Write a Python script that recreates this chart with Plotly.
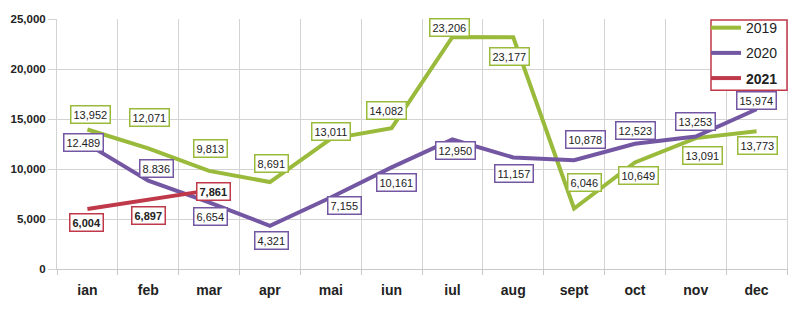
import plotly.graph_objects as go

months = ["ian", "feb", "mar", "apr", "mai", "iun", "iul", "aug", "sept", "oct", "nov", "dec"]
v2019 = [13952, 12071, 9813, 8691, 13011, 14082, 23206, 23177, 6046, 10649, 13091, 13773]
v2020 = [12489, 8836, 6654, 4321, 7155, 10161, 12950, 11157, 10878, 12523, 13253, 15974]
v2021 = [6004, 6897, 7861]
# thousands separator used in the printed labels
sep2020 = [".", ".", ",", ",", ",", ",", ",", ",", ",", ",", ",", ","]

# label offsets in pixels (dx right, dy up)
off2019 = [(3, 15), (1, 31), (1, 22), (2, 19), (0, 7), (-5, 18), (-3, 9), (-4, -19.5),
           (10, 26), (4, -13), (7, -17.5), (1, -14.5)]
off2020 = [(-4, 1.5), (8, 12.6), (1, -14), (2, -15), (14, -8.5), (5, -15.5), (3, -11),
           (1, -15.6), (11.5, 21), (1, 13), (0, 15), (0, 8.5)]
off2021 = [(-1, -14), (0, -15), (4, -1)]

C19 = "#9aba3c"
C20 = "#7357a3"
C21 = "#c0394a"


def fmt(v, sep=","):
    return f"{v:,}".replace(",", sep)


fig = go.Figure()
series = [
    ("2019", v2019, C19, off2019, [","] * 12, False),
    ("2020", v2020, C20, off2020, sep2020, False),
    ("<b>2021</b>", v2021, C21, off2021, [","] * 3, True),
]
for i, (name, vals, col, offs, seps, bold) in enumerate(series):
    fig.add_trace(go.Scatter(
        x=months[:len(vals)], y=vals, mode="lines", name=name,
        line=dict(color=col, width=4), legendgroup=str(i), hoverinfo="skip"))

for name, vals, col, offs, seps, bold in series:
    for m, v, (dx, dy), s in zip(months, vals, offs, seps):
        t = fmt(v, s)
        if bold:
            t = f"<b>{t}</b>"
        fig.add_annotation(
            x=m, y=v, xref="x", yref="y", text=t, showarrow=False,
            xshift=dx, yshift=dy,
            font=dict(family="Arial", size=11, color="#222222"),
            bgcolor="white", bordercolor=col, borderwidth=1.5, borderpad=2)

# legend frame
fig.add_shape(type="rect", xref="paper", yref="paper",
              x0=(711 - 57) / 730, x1=(787 - 57) / 730,
              y0=(269 - 88) / 253, y1=(269 - 17) / 253,
              line=dict(color=C21, width=1.5), fillcolor="white", layer="above")

fig.update_layout(
    width=800, height=309,
    margin=dict(l=57, r=13, t=16, b=40),
    paper_bgcolor="white", plot_bgcolor="white",
    showlegend=True,
    legend=dict(
        x=(706 - 57) / 730, y=1 + 7 / 253, xanchor="left", yanchor="top",
        borderwidth=0, bgcolor="rgba(0,0,0,0)",
        font=dict(family="Arial", size=14, color="#222222"),
        tracegroupgap=4, itemwidth=30),
    xaxis=dict(
        type="category", range=[-0.5, 11.5], tickson="boundaries",
        showgrid=True, gridcolor="#d3d3d3", gridwidth=1,
        showline=True, linecolor="#c8c8c8", linewidth=1,
        ticks="outside", ticklen=5, tickcolor="#c8c8c8",
        ticklabelstandoff=8,
        tickfont=dict(family="Arial", size=14, color="#222222", weight="bold")),
    yaxis=dict(
        range=[0, 25000], dtick=5000, tickformat=",d",
        showgrid=True, gridcolor="#d3d3d3", gridwidth=1,
        showline=True, mirror=True, linecolor="#d3d3d3", linewidth=1,
        ticks="outside", ticklen=8, tickcolor="#d3d3d3",
        zeroline=False,
        tickfont=dict(family="Arial", size=11.5, color="#222222", weight="bold")),
)

fig.write_html("out.html")
